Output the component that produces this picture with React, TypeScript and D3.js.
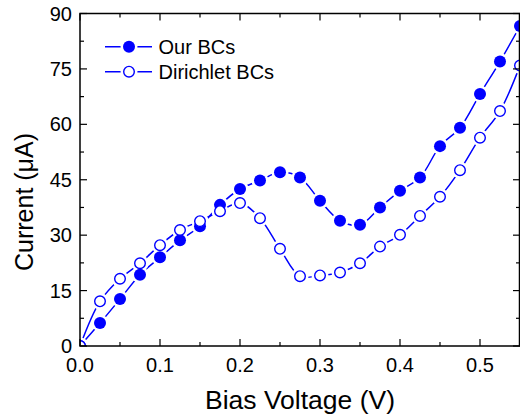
import React from "react";
import * as d3 from "d3";

const voltages = [0, 0.025, 0.05, 0.075, 0.1, 0.125, 0.15, 0.175, 0.2, 0.225, 0.25, 0.275, 0.3, 0.325, 0.35, 0.375, 0.4, 0.425, 0.45, 0.475, 0.5, 0.525, 0.55];
const ourBCs = [0, 6.2, 12.7, 19.3, 24.0, 28.6, 32.4, 38.2, 42.5, 44.8, 47.0, 45.6, 39.3, 33.9, 32.8, 37.5, 42.0, 45.6, 54.1, 59.1, 68.2, 77.0, 86.6];
const dirichletBCs = [0, 12.1, 18.2, 22.4, 27.3, 31.4, 33.8, 36.5, 38.7, 34.6, 26.3, 18.9, 19.1, 19.9, 22.4, 26.9, 30.1, 35.2, 40.4, 47.6, 56.4, 63.6, 75.9];
const xTicks = [0, 0.1, 0.2, 0.3, 0.4, 0.5];
const xMinor = [0.05, 0.15, 0.25, 0.35, 0.45, 0.55];
const yTicks = [0, 15, 30, 45, 60, 75, 90];
const yMinor = [7.5, 22.5, 37.5, 52.5, 67.5, 82.5];
const seriesNames = ["Our BCs", "Dirichlet BCs"];

const BLUE = "#0000ff";
const FONT = "'Liberation Sans', Arial, sans-serif";

export default function App() {
  const W = 520, H = 420;
  const left = 80, right = 520, top = 13.5, bottom = 346;
  const x = d3.scaleLinear().domain([0, 0.55]).range([left, right]);
  const y = d3.scaleLinear().domain([0, 90]).range([bottom, top]);
  const line = d3
    .line<number>()
    .x((_, i) => x(voltages[i]))
    .y((d) => y(d))
    .curve(d3.curveCatmullRom.alpha(0.5));

  const series = [
    { name: seriesNames[0], values: ourBCs, filled: true },
    { name: seriesNames[1], values: dirichletBCs, filled: false },
  ];

  const majorLen = 7, minorLen = 4;

  return (
    <svg width={W} height={H} style={{ position: "absolute", left: 0, top: 0 }}>
      <rect x={0} y={0} width={W} height={H} fill="#fff" />
      <defs>
        <clipPath id="plotclip">
          <rect x={left} y={top} width={right - left} height={bottom - top} />
        </clipPath>
      </defs>
      <g clipPath="url(#plotclip)">
        {series.map((s) => (
          <g key={s.name}>
            <path d={line(s.values) || ""} fill="none" stroke={BLUE} strokeWidth={1.5} />
            {s.values.map((v, i) => (
              <circle key={"h" + i} cx={x(voltages[i])} cy={y(v)} r={8.5} fill="#fff" />
            ))}
          </g>
        ))}
        {series.map((s) =>
          s.values.map((v, i) => (
            <circle
              key={s.name + i}
              cx={x(voltages[i])}
              cy={y(v)}
              r={s.filled ? 6 : 5.3}
              fill={s.filled ? BLUE : "#fff"}
              stroke={BLUE}
              strokeWidth={s.filled ? 0 : 1.4}
            />
          ))
        )}
      </g>
      <rect x={left} y={top} width={right - left - 0.5} height={bottom - top} fill="none" stroke="#000" strokeWidth={1.5} />
      {xTicks.map((t) => (
        <g key={"xt" + t}>
          <line x1={x(t)} x2={x(t)} y1={bottom} y2={bottom - majorLen} stroke="#000" strokeWidth={1.2} />
          <line x1={x(t)} x2={x(t)} y1={top} y2={top + majorLen} stroke="#000" strokeWidth={1.2} />
          <text x={x(t)} y={372} textAnchor="middle" fontFamily={FONT} fontSize={20} fill="#000">
            {t.toFixed(1)}
          </text>
        </g>
      ))}
      {xMinor.map((t) => (
        <g key={"xm" + t}>
          <line x1={x(t)} x2={x(t)} y1={bottom} y2={bottom - minorLen} stroke="#000" strokeWidth={1.2} />
          <line x1={x(t)} x2={x(t)} y1={top} y2={top + minorLen} stroke="#000" strokeWidth={1.2} />
        </g>
      ))}
      {yTicks.map((t) => (
        <g key={"yt" + t}>
          <line x1={left} x2={left + majorLen} y1={y(t)} y2={y(t)} stroke="#000" strokeWidth={1.2} />
          <line x1={right} x2={right - majorLen} y1={y(t)} y2={y(t)} stroke="#000" strokeWidth={1.2} />
          <text x={72} y={y(t) + 7} textAnchor="end" fontFamily={FONT} fontSize={20} fill="#000">
            {t}
          </text>
        </g>
      ))}
      {yMinor.map((t) => (
        <g key={"ym" + t}>
          <line x1={left} x2={left + minorLen} y1={y(t)} y2={y(t)} stroke="#000" strokeWidth={1.2} />
          <line x1={right} x2={right - minorLen} y1={y(t)} y2={y(t)} stroke="#000" strokeWidth={1.2} />
        </g>
      ))}
      <text x={300} y={409} textAnchor="middle" fontFamily={FONT} fontSize={26.5} fill="#000">
        Bias Voltage (V)
      </text>
      <text
        transform={`translate(33, 202) rotate(-90)`}
        textAnchor="middle"
        fontFamily={FONT}
        fontSize={25}
        fill="#000"
      >
        Current (μA)
      </text>
      {series.map((s, i) => {
        const ly = 46.7 + i * 25;
        return (
          <g key={"lg" + i}>
            <line x1={105} x2={152} y1={ly} y2={ly} stroke={BLUE} strokeWidth={1.5} />
            <circle cx={129} cy={ly} r={8.5} fill="#fff" />
            <circle
              cx={129}
              cy={ly}
              r={s.filled ? 6 : 5.3}
              fill={s.filled ? BLUE : "#fff"}
              stroke={BLUE}
              strokeWidth={s.filled ? 0 : 1.4}
            />
            <text x={158.5} y={ly + 7.5} fontFamily={FONT} fontSize={20} fill="#000">
              {s.name}
            </text>
          </g>
        );
      })}
    </svg>
  );
}
